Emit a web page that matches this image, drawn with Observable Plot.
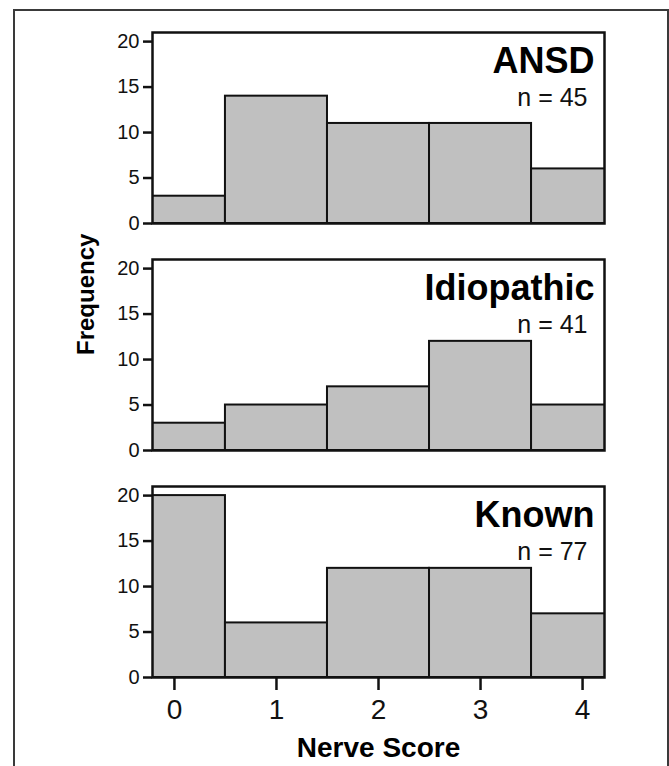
<!DOCTYPE html>
<html>
<head>
<meta charset="utf-8">
<script src="https://cdn.jsdelivr.net/npm/d3@7"></script>
<script src="https://cdn.jsdelivr.net/npm/@observablehq/plot@0.6"></script>
<style>
  html, body { margin: 0; padding: 0; background: #fff; }
  #wrap { position: relative; width: 669px; height: 766px; overflow: hidden; background: #fff; }
  #border { position: absolute; left: 13px; top: 9px; width: 652px; height: 800px;
            border: 2px solid #3a3a3a; border-bottom: none; }
  #chart { position: absolute; left: 0; top: 0; }
</style>
</head>
<body>
<div id="wrap"><div id="border"></div><div id="chart"></div></div>
<script>
// ---- data ----
const groups = ["ANSD", "Idiopathic", "Known"];
const nValues = [45, 41, 77];
const scores = [0, 1, 2, 3, 4];
const ansdCounts = [3, 14, 11, 11, 6];
const idiopathicCounts = [3, 5, 7, 12, 5];
const knownCounts = [20, 6, 12, 12, 7];
const yTicks = [0, 5, 10, 15, 20];
const xTicks = [0, 1, 2, 3, 4];
const xLabel = "Nerve Score";
const yLabel = "Frequency";

// ---- tables built from the arrays ----
const countsByGroup = [ansdCounts, idiopathicCounts, knownCounts];
const bars = groups.flatMap((g, i) =>
  countsByGroup[i].map((c, j) => ({group: g, score: scores[j], count: c})));
const titles = groups.map((g, i) => ({group: g, n: `n = ${nValues[i]}`}));

const font = "'Liberation Sans', Arial, Helvetica, sans-serif";

const plot = Plot.plot({
  width: 669,
  height: 766,
  marginTop: 31,
  marginBottom: 89,
  marginLeft: 152,
  marginRight: 65,
  style: {fontFamily: font, color: "#111", background: "transparent", overflow: "visible"},
  x: {domain: [-0.215, 4.215]},
  y: {domain: [0, 21]},
  fy: {domain: groups, axis: null, padding: 0.1586},
  marks: [
    Plot.rectY(bars, {
      fy: "group",
      x1: d => d.score - 0.5,
      x2: d => d.score + 0.5,
      y: "count",
      fill: "#c0c0c0",
      stroke: "#111",
      strokeWidth: 2,
      clip: true
    }),
    Plot.frame({stroke: "#111", strokeWidth: 2.5}),
    Plot.axisY({ticks: yTicks, tickSize: 9, tickPadding: 4, fontSize: 20,
                strokeWidth: 2.5, label: null, tickFormat: d => String(d)}),
    Plot.axisX({ticks: xTicks, tickSize: 13, tickPadding: 9, fontSize: 28,
                strokeWidth: 2.5, label: null, tickFormat: d => String(d)}),
    Plot.text(titles, {
      fy: "group", text: "group", frameAnchor: "top-right",
      dx: -10, dy: 15, lineAnchor: "top",
      fontSize: 36, fontWeight: "bold", fill: "#000"
    }),
    Plot.text(titles, {
      fy: "group", text: "n", frameAnchor: "top-right",
      dx: -17, dy: 56, lineAnchor: "top",
      fontSize: 25, fill: "#111"
    }),
    Plot.text([{group: groups[1], label: yLabel}], {
      fy: "group", text: "label", frameAnchor: "left",
      dx: -66, rotate: -90,
      fontSize: 24, fontWeight: "bold", fill: "#000"
    }),
    Plot.text([{group: groups[2], label: xLabel}], {
      fy: "group", text: "label", frameAnchor: "bottom",
      dy: 60, lineAnchor: "top",
      fontSize: 28, fontWeight: "bold", fill: "#000"
    })
  ]
});

document.getElementById("chart").appendChild(plot);
</script>
</body>
</html>
